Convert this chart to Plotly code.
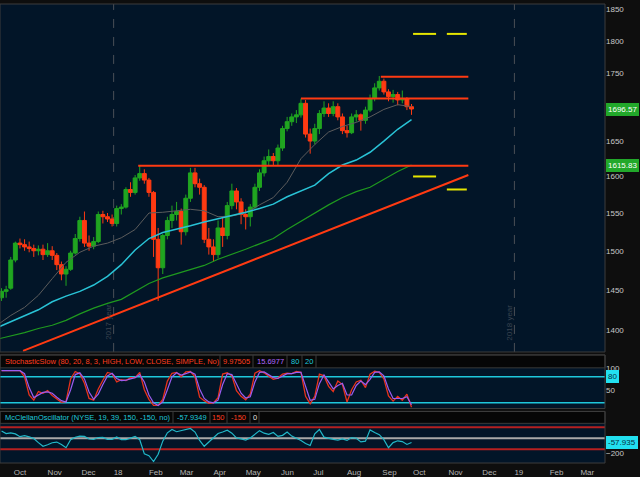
import math
import numpy as np
import pandas as pd
import plotly.graph_objects as go

# Russell 2000 - barras de 3 pregões (set/2017 a set/2018)
bar_open = [1440, 1448, 1452, 1488, 1510, 1508, 1505, 1503, 1500, 1502,
            1495, 1500, 1494, 1482, 1470, 1476, 1497, 1516, 1540, 1510,
            1506, 1512, 1548, 1545, 1542, 1536, 1556, 1558, 1582, 1578,
            1598, 1604, 1595, 1578, 1515, 1478, 1520, 1540, 1548, 1552,
            1525, 1570, 1605, 1590, 1585, 1515, 1505, 1495, 1530, 1520,
            1560, 1580, 1565, 1548, 1545, 1558, 1585, 1605, 1622, 1628,
            1622, 1640, 1668, 1678, 1685, 1688, 1705, 1660, 1650, 1668,
            1690, 1698, 1690, 1700, 1685, 1665, 1662, 1685, 1688, 1680,
            1695, 1712, 1728, 1738, 1722, 1715, 1718, 1710, 1712, 1700]
bar_high = [1452, 1455, 1492, 1512, 1516, 1515, 1512, 1508, 1507, 1508,
            1510, 1506, 1497, 1486, 1480, 1500, 1522, 1545, 1552, 1520,
            1518, 1552, 1553, 1550, 1548, 1560, 1562, 1585, 1592, 1602,
            1616, 1610, 1598, 1580, 1530, 1522, 1545, 1560, 1565, 1556,
            1575, 1612, 1612, 1597, 1588, 1530, 1515, 1540, 1545, 1565,
            1590, 1584, 1570, 1555, 1562, 1590, 1610, 1628, 1638, 1633,
            1645, 1672, 1685, 1690, 1695, 1712, 1710, 1668, 1675, 1695,
            1708, 1705, 1708, 1705, 1690, 1672, 1690, 1695, 1690, 1700,
            1718, 1735, 1746, 1742, 1726, 1725, 1722, 1724, 1714, 1704]
bar_low = [1436, 1440, 1450, 1485, 1503, 1500, 1498, 1492, 1494, 1488,
           1492, 1488, 1475, 1462, 1455, 1474, 1495, 1512, 1505, 1500,
           1502, 1510, 1536, 1538, 1532, 1532, 1548, 1556, 1572, 1575,
           1594, 1590, 1572, 1492, 1436, 1470, 1515, 1530, 1540, 1508,
           1520, 1565, 1585, 1575, 1510, 1495, 1486, 1490, 1505, 1515,
           1555, 1555, 1535, 1528, 1532, 1555, 1580, 1600, 1615, 1615,
           1615, 1636, 1664, 1672, 1676, 1684, 1655, 1632, 1645, 1660,
           1685, 1685, 1686, 1680, 1660, 1655, 1660, 1678, 1665, 1675,
           1692, 1708, 1724, 1718, 1708, 1706, 1702, 1705, 1695, 1688]
bar_close = [1448, 1450, 1488, 1510, 1508, 1505, 1503, 1500, 1502, 1495,
             1500, 1494, 1482, 1470, 1476, 1497, 1516, 1540, 1510, 1506,
             1512, 1548, 1545, 1542, 1536, 1556, 1558, 1582, 1578, 1598,
             1604, 1595, 1578, 1515, 1478, 1520, 1540, 1548, 1552, 1525,
             1570, 1605, 1590, 1585, 1515, 1505, 1495, 1530, 1520, 1560,
             1580, 1565, 1548, 1545, 1558, 1585, 1605, 1622, 1628, 1622,
             1640, 1668, 1678, 1685, 1688, 1705, 1660, 1650, 1668, 1690,
             1698, 1690, 1700, 1685, 1665, 1662, 1685, 1688, 1680, 1695,
             1712, 1728, 1738, 1722, 1715, 1718, 1710, 1712, 1700, 1696.57]
bar_dates = pd.date_range(end='2018-09-28', periods=len(bar_close), freq='3B')

# médias móveis (cinza, ciano, verde)
ma_gray = [1406, 1418, 1428, 1443, 1464, 1485, 1498, 1506, 1510, 1517, 1528, 1550, 1551, 1553, 1555, 1553,
           1545, 1546, 1550, 1561, 1571, 1592, 1625, 1645, 1663, 1671, 1677, 1685, 1696, 1703, 1700]
ma_cyan = [1403, 1410, 1417, 1425, 1435, 1442, 1448, 1456, 1467, 1482, 1501, 1516, 1524, 1528, 1533, 1538,
           1542, 1546, 1551, 1556, 1562, 1572, 1580, 1588, 1604, 1616, 1623, 1634, 1650, 1667, 1681]
ma_green = [1389, 1393, 1397, 1402, 1406, 1412, 1420, 1427, 1433, 1438, 1448, 1458, 1465, 1470, 1476, 1481,
            1489, 1495, 1502, 1509, 1516, 1528, 1539, 1550, 1561, 1571, 1579, 1585, 1596, 1607, 1616]
ma_dates = pd.date_range(end='2018-09-28', periods=len(ma_gray), freq='9B')

# linhas desenhadas à mão
res_levels = [1615, 1712, 1745]
res_start = ['2018-01-23', '2018-06-20', '2018-08-31']
lines_end = '2018-11-20'
trend_dates = ['2017-10-10', '2018-11-20']
trend_values = [1375, 1602]
exp_dates = [['2018-10-01', '2018-10-22'], ['2018-10-31', '2018-11-19']]
exp_upper = [1811, 1811]
exp_lower = [1600, 1582]

# StochasticSlow %K / %D
stoch_k = [94, 94, 94, 94, 94, 80, 38, 26, 46, 42,
           48, 37, 30, 21, 23, 75, 92, 87, 65, 30,
           26, 52, 72, 90, 87, 68, 73, 71, 78, 78,
           90, 50, 28, 14, 14, 28, 70, 88, 90, 80,
           91, 92, 80, 33, 25, 19, 20, 32, 86, 89,
           82, 48, 35, 27, 40, 88, 94, 89, 81, 74,
           77, 86, 88, 87, 92, 90, 35, 18, 35, 86,
           82, 58, 46, 70, 62, 22, 50, 68, 72, 55,
           86, 93, 90, 75, 36, 24, 35, 26, 40, 9.975]
stoch_d = [94, 94, 94, 94, 94, 87, 55, 32, 38, 44,
           45, 42, 33, 25, 22, 50, 85, 89, 75, 45,
           28, 40, 62, 82, 88, 76, 71, 72, 75, 78,
           85, 68, 38, 20, 14, 22, 50, 80, 89, 84,
           87, 91, 86, 52, 30, 22, 20, 26, 62, 87,
           85, 62, 42, 31, 34, 68, 90, 91, 84, 78,
           76, 82, 87, 87, 90, 90, 58, 26, 28, 64,
           84, 68, 52, 60, 65, 38, 38, 60, 70, 62,
           74, 90, 91, 82, 52, 30, 30, 30, 34, 15.7]

# McClellan Oscillator (NYSE)
mcclellan = [100, 64, 75, 60, 22, 35, 20, -5, -60, -110,
             -90, -62, -52, -85, -130, -20, 14, 28, 25, -10,
             -15, 10, 12, -15, -15, 18, -20, -20, 2, 25,
             -20, -215, -240, -320, -220, -40, 75, 120, 90, 105,
             110, 135, 85, -30, -110, -50, 5, 65, 86, 110,
             70, 5, -8, -25, 5, 60, 105, 70, 55, 80,
             25, 40, 86, 30, 5, -30, -72, -100, 60, 120,
             15, -5, -15, -25, -10, -30, 10, 0, -50, -40,
             115, 78, 50, -20, -130, -60, -35, -45, -85, -57.93]

month_ticks = pd.date_range('2017-10-01', '2019-03-01', freq='BMS')
month_text = ['Oct', 'Nov', 'Dec', '18', 'Feb', 'Mar', 'Apr', 'May', 'Jun', 'Jul', 'Aug', 'Sep',
              'Oct', 'Nov', 'Dec', '19', 'Feb', 'Mar']
year_marks = ['2018-01-01', '2019-01-01']
x_first, x_last = '2017-09-19', '2019-03-25'

# cores
UP = '#20a520'
DOWN = '#ff3a12'
RED = '#ff3a12'
CYAN = '#1ec8dc'
FONT = 'Liberation Sans, Arial, sans-serif'

PLOT_R, PLOT_B = 605, 463  # borda direita / inferior dos painéis (px)


def bd(d):
    # eixo x em pregões (dias úteis) contados a partir do início da janela
    d = np.asarray(pd.to_datetime(d), dtype='datetime64[D]')
    return np.busday_count(np.datetime64(x_first), d)


def py(p):
    # pixel vertical -> coordenada paper
    return 1 - p / PLOT_B


def pxx(p):
    return p / PLOT_R


bar_x = bd(bar_dates)
ma_x = bd(ma_dates)

fig = go.Figure()

fig.add_trace(go.Candlestick(
    x=bar_x, open=bar_open, high=bar_high, low=bar_low, close=bar_close,
    increasing=dict(line=dict(color=UP, width=1), fillcolor=UP),
    decreasing=dict(line=dict(color=DOWN, width=1), fillcolor=DOWN),
    whiskerwidth=0, hoverinfo='skip', xaxis='x', yaxis='y'))

for vals, color, w in [(ma_gray, '#5c5c5c', 1), (ma_cyan, '#29c3d6', 1.5), (ma_green, '#1f9a1f', 1.2)]:
    fig.add_trace(go.Scatter(x=ma_x, y=vals, mode='lines', line=dict(color=color, width=w),
                             hoverinfo='skip', xaxis='x', yaxis='y'))

for lvl, start in zip(res_levels, res_start):
    fig.add_trace(go.Scatter(x=bd([start, lines_end]), y=[lvl, lvl], mode='lines',
                             line=dict(color=RED, width=2), xaxis='x', yaxis='y'))
fig.add_trace(go.Scatter(x=bd(trend_dates), y=trend_values, mode='lines',
                         line=dict(color=RED, width=2), xaxis='x', yaxis='y'))
for d, up, lo in zip(exp_dates, exp_upper, exp_lower):
    for v in (up, lo):
        fig.add_trace(go.Scatter(x=bd(d), y=[v, v], mode='lines',
                                 line=dict(color='#e6e600', width=2), xaxis='x', yaxis='y'))

fig.add_trace(go.Scatter(x=bar_x, y=stoch_k, mode='lines', line=dict(color='#e8321c', width=1.3),
                         xaxis='x2', yaxis='y2'))
fig.add_trace(go.Scatter(x=bar_x, y=stoch_d, mode='lines', line=dict(color='#9b5cf0', width=1.2),
                         xaxis='x2', yaxis='y2'))
fig.add_trace(go.Scatter(x=bar_x, y=mcclellan, mode='lines', line=dict(color='#22b8c8', width=1.2),
                         xaxis='x3', yaxis='y3'))

shapes = []
# linhas de ano
for xv in bd(year_marks):
    shapes.append(dict(type='line', xref='x', yref='y domain', x0=xv, x1=xv, y0=0, y1=1, layer='below',
                       line=dict(color='#4a4f56', width=1, dash='dash')))
# níveis dos osciladores
for v in (80, 20):
    shapes.append(dict(type='line', xref='x2 domain', yref='y2', x0=0, x1=1, y0=v, y1=v, layer='below',
                       line=dict(color=CYAN, width=1.5)))
for v, c in [(150, '#b52020'), (-150, '#b52020'), (0, '#a8a8a8')]:
    shapes.append(dict(type='line', xref='x3 domain', yref='y3', x0=0, x1=1, y0=v, y1=v, layer='below',
                       line=dict(color=c, width=2)))
# cabeçalhos e molduras
for top, bot in [(354, 367), (411, 423)]:
    shapes.append(dict(type='rect', xref='paper', yref='paper', x0=0, x1=1, y0=py(bot), y1=py(top),
                       fillcolor='#060606', line=dict(color='#3a3a3a', width=1)))
for top, bot in [(0, 351), (354, 408), (411, 463)]:
    shapes.append(dict(type='rect', xref='paper', yref='paper', x0=0, x1=1, y0=py(bot), y1=py(top),
                       fillcolor='rgba(0,0,0,0)', line=dict(color='#3c3c3c', width=1)))
for xs, top, bot in [([220, 253, 287, 302, 316], 354, 367), ([173, 210, 227, 250, 259], 411, 423)]:
    for xv in xs:
        shapes.append(dict(type='line', xref='paper', yref='paper', x0=pxx(xv), x1=pxx(xv),
                           y0=py(bot), y1=py(top), line=dict(color='#3a3a3a', width=1)))

ann = []
hdr = [
    ('StochasticSlow (80, 20, 8, 3, HIGH, LOW, CLOSE, SIMPLE, No)', 3, 360.5, '#ff3d1f', 'left'),
    ('9.97505', 236.5, 360.5, '#ff3d1f', 'center'),
    ('15.6977', 270, 360.5, '#b066ff', 'center'),
    ('80', 294.5, 360.5, CYAN, 'center'),
    ('20', 309, 360.5, CYAN, 'center'),
    ('McClellanOscillator (NYSE, 19, 39, 150, -150, no)', 3, 417, CYAN, 'left'),
    ('-57.9349', 191.5, 417, CYAN, 'center'),
    ('150', 218.5, 417, '#ff3d1f', 'center'),
    ('-150', 238.5, 417, '#ff3d1f', 'center'),
    ('0', 254.5, 417, '#e0e0e0', 'center'),
]
for t, xv, yv, c, anc in hdr:
    ann.append(dict(text=t, xref='paper', yref='paper', x=pxx(xv), y=py(yv), xanchor=anc, yanchor='middle',
                    showarrow=False, font=dict(family=FONT, size=7.5, color=c)))

for t, xv in zip(['2017 year', '2018 year'], bd(year_marks)):
    ann.append(dict(text=t, xref='x', yref='paper', x=xv, y=py(321), yanchor='middle', xshift=-5,
                    textangle=-90, showarrow=False, font=dict(family=FONT, size=8, color='#3a4450')))

# caixas de valor no eixo direito
for t, yref, yv, bg, fc in [('1696.57', 'y', math.log10(1696.57), '#22a82a', '#ffffff'),
                            ('1615.83', 'y', math.log10(1615.83), '#22a82a', '#ffffff'),
                            ('80', 'y2', 80, '#22e0f0', '#083040'),
                            ('-57.935', 'y3', -57.935, '#22e0f0', '#083040')]:
    ann.append(dict(text=t, xref='paper', yref=yref, x=1, y=yv, xanchor='left', yanchor='middle',
                    xshift=1, showarrow=False, bgcolor=bg, bordercolor=bg, borderpad=1,
                    font=dict(family=FONT, size=8, color=fc)))

hide_x = dict(showticklabels=False, showgrid=False, zeroline=False, ticks='')
ytick = dict(side='right', showgrid=False, zeroline=False, ticks='',
             tickfont=dict(family=FONT, size=8, color='#c8c8c8'))

fig.update_layout(
    width=640, height=477,
    margin=dict(l=0, r=640 - PLOT_R, t=0, b=477 - PLOT_B, pad=0),
    paper_bgcolor='#0e0e0e', plot_bgcolor='#021528',
    showlegend=False,
    boxgap=0.15, boxgroupgap=0,
    font=dict(family=FONT, size=8, color='#c8c8c8'),
    xaxis=dict(domain=[0, 1], range=[0, int(bd(x_last))], anchor='y',
               rangeslider=dict(visible=False), **hide_x),
    xaxis2=dict(domain=[0, 1], matches='x', anchor='y2', **hide_x),
    xaxis3=dict(domain=[0, 1], matches='x', anchor='y3', showgrid=False, zeroline=False, ticks='',
                tickvals=bd(month_ticks), ticktext=month_text, ticklabelposition='outside right',
                ticklabelstandoff=3,
                tickfont=dict(family=FONT, size=8, color='#b4b4b4')),
    yaxis=dict(domain=[py(351), 1], type='log', range=[3.1379, 3.2692], anchor='x',
               tickvals=[1400, 1450, 1500, 1550, 1600, 1650, 1750, 1800, 1850], **ytick),
    yaxis2=dict(domain=[py(408), py(367)], range=[7, 100.5], anchor='x2', tickvals=[50, 100], **ytick),
    yaxis3=dict(domain=[0, py(423)], range=[-340, 205], anchor='x3', tickvals=[-200, 0], **ytick),
    shapes=shapes,
    annotations=ann,
)

# sem margem no <body> e sem barra de ferramentas
fig.write_html("out.html", config={'displayModeBar': False},
               post_script="document.body.style.margin='0';")
